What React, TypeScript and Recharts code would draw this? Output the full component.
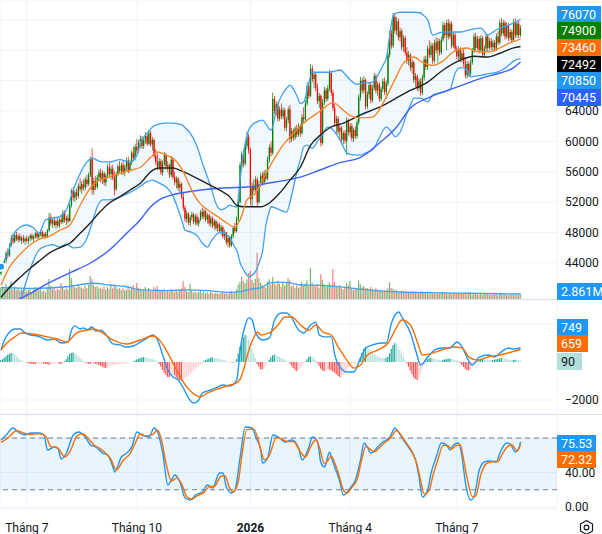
import React from "react";
import {
  ComposedChart,
  Bar,
  Line,
  Area,
  XAxis,
  YAxis,
  CartesianGrid,
  ReferenceLine,
  ReferenceArea,
  Cell,
} from "recharts";

// daily bars, prices in thousand VND: [open, high, low, close]
const ohlc: number[][] = [
  [42.6, 43.4, 42.4, 43.2], [43.2, 44.0, 42.9, 43.8], [43.8, 44.6, 43.5, 44.3], [44.3, 45.6, 44.0, 45.3],
  [45.3, 45.9, 44.6, 45.0], [45.0, 46.6, 44.8, 46.4], [46.4, 47.7, 46.1, 47.3], [47.3, 47.9, 46.5, 46.8],
  [46.8, 48.0, 46.6, 47.7], [47.7, 48.1, 46.9, 47.1], [47.1, 47.8, 46.7, 47.5], [47.5, 47.9, 46.8, 47.0],
  [47.0, 47.6, 46.5, 47.3], [47.3, 47.7, 46.6, 46.9], [46.9, 47.4, 46.4, 47.2], [47.2, 47.6, 46.7, 46.9],
  [46.9, 47.5, 46.5, 47.3], [47.3, 47.8, 46.9, 47.6], [47.6, 47.9, 47.0, 47.2], [47.2, 47.7, 46.8, 47.5],
  [47.5, 48.1, 47.2, 47.9], [47.9, 48.2, 47.2, 47.4], [47.4, 48.0, 47.1, 47.8], [47.8, 48.4, 47.5, 48.1],
  [48.1, 48.3, 47.3, 47.5], [47.5, 48.0, 47.2, 47.8], [47.8, 48.1, 47.2, 47.4], [47.4, 48.5, 47.3, 48.3],
  [48.3, 50.6, 48.1, 50.0], [50.0, 50.5, 48.9, 49.2], [49.2, 49.9, 48.6, 49.6], [49.6, 50.1, 48.8, 49.0],
  [49.0, 49.7, 48.5, 49.5], [49.5, 50.0, 48.7, 48.9], [48.9, 49.9, 48.6, 49.7], [49.7, 50.3, 49.1, 49.4],
  [49.4, 51.0, 49.2, 50.6], [50.6, 50.9, 49.3, 49.6], [49.6, 50.2, 49.0, 49.9], [49.9, 50.4, 49.2, 49.5],
  [49.5, 51.9, 49.4, 51.6], [51.6, 53.8, 51.3, 53.5], [53.5, 54.0, 52.2, 52.6], [52.6, 53.6, 52.0, 53.3],
  [53.3, 53.8, 52.3, 52.8], [52.8, 54.5, 52.5, 54.1], [54.1, 55.2, 53.4, 53.7], [53.7, 54.8, 53.1, 54.4],
  [54.4, 55.0, 53.5, 53.9], [53.9, 55.3, 53.6, 55.0], [55.0, 55.6, 54.0, 54.4], [54.4, 55.9, 54.1, 55.6],
  [55.6, 58.0, 55.3, 57.6], [57.8, 59.1, 53.0, 53.6], [53.6, 55.2, 53.0, 54.8], [54.8, 55.4, 53.6, 54.0],
  [54.0, 55.6, 53.7, 55.3], [55.3, 56.3, 54.8, 55.9], [55.9, 56.4, 54.6, 55.0], [55.0, 56.2, 54.4, 55.8],
  [55.8, 56.0, 54.2, 54.6], [54.6, 55.8, 54.1, 55.5], [55.5, 57.0, 55.2, 56.6], [56.6, 57.2, 55.3, 55.7],
  [55.7, 56.8, 55.0, 56.4], [56.4, 56.9, 54.9, 55.2], [55.2, 56.1, 52.9, 53.7], [53.7, 56.0, 53.5, 55.7],
  [55.7, 57.0, 55.4, 56.7], [56.7, 57.4, 55.8, 56.1], [56.1, 57.2, 55.6, 56.9], [56.9, 57.5, 55.6, 55.9],
  [55.9, 57.0, 55.4, 56.6], [56.6, 57.9, 56.2, 57.5], [57.5, 58.0, 55.8, 56.2], [56.2, 57.6, 55.9, 57.2],
  [57.2, 58.8, 56.9, 58.5], [58.5, 59.3, 57.4, 57.8], [57.8, 59.7, 57.5, 59.3], [59.3, 60.3, 58.4, 58.8],
  [58.8, 60.2, 58.5, 59.9], [59.9, 60.8, 59.1, 60.3], [60.3, 60.7, 59.0, 59.4], [59.4, 60.6, 59.0, 60.2],
  [60.2, 61.2, 59.7, 60.7], [60.7, 61.0, 59.4, 59.7], [59.7, 61.5, 59.5, 61.1], [61.1, 61.4, 59.3, 59.6],
  [59.6, 60.6, 58.8, 60.2], [60.2, 60.4, 57.8, 58.1], [58.1, 59.0, 56.9, 57.3], [57.3, 58.4, 56.2, 56.6],
  [56.6, 57.8, 56.2, 57.4], [57.4, 57.7, 55.6, 55.9], [55.9, 57.5, 55.5, 57.1], [57.1, 58.6, 56.8, 58.2],
  [58.2, 58.5, 56.3, 56.7], [56.7, 57.4, 55.9, 56.9], [56.9, 57.1, 55.2, 55.6], [55.6, 58.1, 55.3, 57.6],
  [57.6, 57.9, 55.0, 55.3], [55.3, 56.0, 54.2, 54.6], [54.6, 55.4, 53.8, 55.1], [55.1, 55.3, 53.5, 53.9],
  [53.9, 54.8, 53.3, 54.4], [54.4, 54.6, 52.4, 52.7], [52.7, 53.3, 50.9, 51.3], [51.3, 51.6, 49.4, 49.8],
  [49.8, 50.9, 49.3, 50.5], [50.5, 50.7, 49.0, 49.3], [49.3, 50.3, 48.8, 50.0], [50.0, 50.8, 49.6, 50.4],
  [50.4, 50.6, 49.1, 49.4], [49.4, 50.4, 49.0, 50.1], [50.1, 50.5, 48.9, 49.2], [49.2, 50.0, 48.8, 49.7],
  [49.7, 51.0, 49.5, 50.7], [50.7, 51.3, 49.8, 50.1], [50.1, 51.1, 49.7, 50.8], [50.8, 51.0, 49.4, 49.7],
  [49.7, 50.6, 49.2, 50.3], [50.3, 50.5, 48.9, 49.2], [49.2, 50.2, 48.7, 49.9], [49.9, 50.1, 48.6, 48.9],
  [48.9, 49.8, 48.4, 49.5], [49.5, 49.7, 48.3, 48.6], [48.6, 49.4, 48.1, 49.1], [49.1, 49.3, 47.9, 48.2],
  [48.2, 49.0, 47.6, 48.7], [48.7, 48.9, 47.2, 47.5], [47.5, 48.4, 47.0, 48.0], [48.0, 48.1, 46.4, 46.7],
  [46.7, 47.6, 46.1, 47.3], [47.3, 47.5, 46.0, 46.3], [46.3, 47.8, 46.1, 47.5], [47.5, 48.9, 47.2, 48.6],
  [48.6, 49.3, 47.9, 48.2], [48.2, 50.1, 48.0, 49.8], [49.8, 52.4, 49.5, 52.0], [52.0, 57.3, 51.8, 56.9],
  [56.9, 58.7, 56.3, 58.3], [58.3, 59.0, 56.6, 57.1], [57.1, 59.8, 56.8, 59.4], [59.4, 61.3, 59.0, 60.6],
  [60.6, 61.0, 58.4, 58.8], [58.8, 59.2, 51.6, 52.4], [52.4, 54.6, 51.3, 54.1], [54.1, 55.0, 53.2, 53.6],
  [53.6, 55.4, 53.3, 55.0], [55.0, 55.3, 51.5, 52.0], [52.0, 54.8, 51.8, 54.4], [54.4, 55.9, 54.0, 55.5],
  [55.5, 56.0, 54.2, 54.6], [54.6, 56.2, 54.3, 55.8], [55.8, 56.3, 54.7, 55.1], [55.1, 58.0, 54.9, 57.6],
  [57.6, 59.6, 57.2, 59.2], [59.2, 60.0, 58.0, 58.5], [58.5, 66.4, 58.2, 65.6], [65.6, 66.0, 63.6, 64.0],
  [64.0, 65.3, 63.4, 64.9], [64.9, 65.2, 62.6, 63.0], [63.0, 64.6, 62.7, 64.2], [64.2, 65.0, 62.9, 63.3],
  [63.3, 64.5, 62.9, 64.1], [64.1, 64.4, 61.4, 61.8], [61.8, 63.2, 61.3, 62.8], [62.8, 64.6, 62.4, 64.2],
  [64.2, 64.8, 59.8, 60.3], [60.3, 61.8, 59.9, 61.4], [61.4, 61.7, 60.1, 60.5], [60.5, 62.0, 60.2, 61.7],
  [61.7, 62.2, 60.5, 60.9], [60.9, 62.4, 60.6, 62.0], [62.0, 62.3, 60.6, 61.1], [61.1, 63.6, 60.9, 63.2],
  [63.2, 64.5, 62.5, 62.9], [62.9, 65.4, 62.7, 65.0], [65.0, 67.8, 64.7, 67.3], [67.3, 67.7, 65.6, 66.0],
  [66.0, 70.2, 65.8, 69.6], [69.6, 70.0, 67.8, 68.2], [68.2, 69.2, 67.0, 68.8], [68.8, 69.1, 66.6, 67.0],
  [67.0, 67.6, 64.9, 65.3], [65.3, 66.4, 64.4, 66.0], [66.0, 66.2, 59.3, 59.8], [59.8, 65.6, 59.5, 65.2],
  [65.2, 67.2, 64.8, 66.7], [66.7, 67.0, 65.2, 65.6], [65.6, 67.4, 65.3, 67.0], [67.0, 69.4, 66.6, 69.0],
  [69.0, 69.3, 66.0, 66.4], [66.4, 66.8, 64.0, 64.4], [64.4, 64.9, 62.0, 62.4], [62.4, 63.4, 61.0, 63.0],
  [63.0, 63.3, 60.9, 61.3], [61.3, 62.2, 60.2, 61.8], [61.8, 62.0, 59.8, 60.2], [60.2, 61.4, 59.6, 61.1],
  [61.1, 61.5, 59.7, 60.1], [60.1, 63.2, 58.2, 62.8], [62.8, 63.0, 60.8, 61.2], [61.2, 62.4, 60.6, 62.0],
  [62.0, 62.4, 60.0, 60.4], [60.4, 61.8, 59.9, 61.5], [61.5, 62.0, 60.3, 60.7], [60.7, 62.9, 60.4, 62.5],
  [62.5, 66.2, 62.2, 65.8], [65.8, 68.5, 65.4, 68.0], [68.0, 68.4, 66.3, 66.7], [66.7, 68.6, 66.3, 68.1],
  [68.1, 68.3, 64.2, 64.6], [64.6, 66.6, 64.3, 66.2], [66.2, 67.8, 65.6, 67.4], [67.4, 67.7, 65.0, 65.4],
  [65.4, 67.5, 65.1, 67.0], [67.0, 69.0, 66.7, 68.6], [68.6, 68.9, 66.3, 66.7], [66.7, 67.9, 66.0, 67.5],
  [67.5, 67.8, 65.2, 65.6], [65.6, 67.2, 65.3, 66.9], [66.9, 68.3, 66.5, 67.9], [67.9, 68.4, 66.1, 66.5],
  [66.5, 68.0, 65.6, 67.6], [67.6, 71.8, 67.3, 71.4], [71.4, 74.6, 71.0, 74.2], [74.2, 74.7, 72.2, 72.6],
  [72.6, 76.9, 72.3, 76.4], [76.4, 76.8, 74.2, 74.6], [74.6, 76.4, 74.0, 75.8], [75.8, 76.2, 73.3, 73.7],
  [73.7, 75.0, 73.1, 74.5], [74.5, 74.8, 72.0, 72.4], [72.4, 74.0, 71.8, 73.6], [73.6, 73.9, 71.3, 71.7],
  [71.7, 72.4, 70.2, 70.6], [70.6, 71.9, 70.0, 71.4], [71.4, 71.6, 69.3, 69.7], [69.7, 70.9, 68.9, 70.4],
  [70.4, 70.6, 67.7, 68.1], [68.1, 69.0, 67.2, 68.6], [68.6, 68.8, 66.6, 67.0], [67.0, 68.3, 66.6, 67.9],
  [67.9, 68.3, 66.0, 66.4], [66.4, 68.8, 66.1, 68.4], [68.4, 71.2, 68.0, 70.8], [70.8, 71.3, 69.4, 69.8],
  [69.8, 72.6, 69.4, 72.2], [72.2, 73.3, 71.0, 71.4], [71.4, 73.0, 71.0, 72.6], [72.6, 72.9, 70.2, 70.6],
  [70.6, 73.4, 70.3, 73.0], [73.0, 73.7, 71.6, 72.0], [72.0, 73.6, 70.4, 73.2], [73.2, 73.5, 71.3, 71.7],
  [71.7, 73.8, 71.4, 73.4], [73.4, 75.8, 73.1, 75.3], [75.3, 75.6, 73.6, 74.0], [74.0, 76.0, 72.0, 75.6],
  [75.6, 76.1, 73.4, 73.8], [73.8, 75.9, 73.5, 75.5], [75.5, 75.8, 72.2, 72.6], [72.6, 74.4, 72.3, 74.0],
  [74.0, 74.3, 71.8, 72.2], [72.2, 72.6, 70.8, 71.2], [71.2, 72.5, 70.6, 72.1], [72.1, 72.4, 70.4, 70.8],
  [70.8, 72.0, 70.4, 71.6], [71.6, 72.2, 69.8, 70.2], [70.2, 71.0, 68.3, 68.7], [68.7, 70.6, 68.3, 70.2],
  [70.2, 70.5, 68.5, 68.9], [68.9, 70.8, 68.6, 70.4], [70.4, 72.3, 70.1, 71.9], [71.9, 74.2, 71.6, 73.8],
  [73.8, 74.3, 71.9, 72.3], [72.3, 73.9, 72.0, 73.5], [73.5, 73.8, 71.6, 72.0], [72.0, 74.0, 71.7, 73.6],
  [73.6, 73.9, 71.0, 71.4], [71.4, 72.6, 71.0, 72.2], [72.2, 74.2, 71.9, 73.8], [73.8, 74.1, 71.9, 72.3],
  [72.3, 73.6, 72.0, 73.2], [73.2, 73.6, 72.0, 72.4], [72.4, 73.4, 72.0, 73.0], [73.0, 73.3, 71.8, 72.2],
  [72.2, 74.2, 71.9, 73.8], [73.8, 74.5, 72.6, 73.0], [73.0, 76.0, 72.8, 75.6], [75.6, 76.2, 73.8, 74.2],
  [74.2, 76.0, 73.9, 75.6], [75.6, 75.9, 73.4, 73.8], [73.8, 75.7, 73.5, 75.3], [75.3, 75.6, 73.2, 73.6],
  [73.6, 74.8, 73.3, 74.4], [74.4, 74.7, 72.9, 73.3], [73.3, 76.1, 73.1, 75.7], [75.7, 76.2, 73.6, 74.0],
  [74.0, 75.8, 73.7, 75.5], [75.5, 75.9, 73.6, 74.0], [74.0, 75.3, 73.7, 74.9],
];

// daily volume, millions of shares
const volumes = [
  6.5, 7.2, 5.8, 8.4, 6.0, 7.6, 9.8, 5.4, 7.0, 5.2, 6.3, 4.8, 5.6, 4.6, 5.9,
  4.2, 5.1, 6.4, 3.9, 5.5, 6.8, 4.4, 5.0, 6.1, 4.3, 4.8, 3.8, 6.9, 11.5,
  7.4, 5.6, 6.2, 4.9, 5.8, 5.1, 9.2, 6.6, 5.2, 6.0,
  5.4, 17.2, 11.8, 7.9, 6.8,
  6.2, 8.4, 7.1, 6.5, 5.8, 7.7, 6.3, 8.0, 13.2, 11.4, 8.1, 6.9, 7.4, 6.0,
  6.6, 5.8, 7.2, 5.4, 6.8, 5.9, 7.6, 6.1, 8.3, 7.0, 5.7, 6.4, 5.2, 6.0, 4.9, 5.5, 6.7, 5.3, 6.2, 7.8, 5.6,
  9.2, 6.4, 5.8, 4.7, 5.5, 6.9, 4.5, 6.3, 5.0, 4.4, 6.8, 5.9, 7.5, 4.6,
  5.3, 4.8, 5.6, 4.2, 5.0, 3.9, 5.7, 4.4, 3.8, 4.6, 4.1, 5.2, 6.0, 10.3, 6.8,
  4.5, 3.8, 8.6, 4.9, 3.6, 4.2, 3.3, 4.0, 5.1, 3.5, 4.4, 3.2, 3.9, 3.0, 4.3,
  3.4, 2.9, 3.7, 3.1, 2.8, 3.6, 4.1, 3.2, 3.8, 2.9, 3.4, 4.6, 3.3, 3.9,
  5.4, 8.2, 9.7, 12.6, 10.3, 9.0, 11.1, 14.9, 16.0, 10.8, 9.2, 11.5, 26.4, 12.0, 9.3, 8.1,
  7.4, 6.6, 9.9, 11.3, 8.2, 12.6, 9.0, 7.8, 10.4, 8.7, 6.9, 9.5, 7.6, 8.8, 11.9, 10.6, 7.2, 8.0, 6.5, 7.7, 6.3,
  6.9, 9.6, 7.4, 8.8, 10.7, 7.3, 17.8, 9.5, 8.2, 7.1, 8.6, 6.4, 14.2, 11.0, 8.3, 6.8, 7.9, 9.4, 8.1, 17.2, 9.8, 7.5, 6.6, 8.0,
  6.2, 5.4, 6.9, 9.1, 7.8, 10.3, 6.0, 5.2, 6.5, 5.8, 10.5, 8.4, 6.7, 7.5, 5.9, 6.3, 5.1, 6.8, 5.6, 4.9,
  6.0, 5.3, 4.7, 5.5, 4.4, 5.0, 4.6, 6.2, 9.6,
  6.1, 5.8, 4.9, 5.3, 4.4, 4.0, 4.7, 3.8, 4.3, 3.6, 4.1, 3.4, 3.9, 4.5, 3.7, 3.2, 4.0, 3.5, 4.4, 3.8,
  3.3, 3.7, 3.0, 3.6, 3.2, 3.9, 2.9, 3.4, 3.1, 3.7, 4.2, 3.3, 3.6, 3.0, 3.5, 2.8, 3.2, 3.6, 2.9, 3.3,
  3.0, 3.4, 2.7, 3.1, 2.6, 3.5, 2.9, 2.5, 3.2, 2.8, 3.4, 2.6, 3.0, 2.4, 2.9, 2.7, 3.2, 2.5, 2.8, 2.3,
  3.0, 2.6, 2.2, 3.1, 2.7, 2.4, 2.9, 2.5, 2.1, 2.7, 2.4, 2.8, 2.2, 2.6, 2.3, 2.9,
];

// MACD histogram, one value per bar
const macdHist = [
  100, 150, 220, 300, 380, 430, 470, 460, 420, 330, 240, 150, 80, 40, 10,
  -30, -60, -80, -100, -110, -120, -110, -100, -90, -80, -90, -100, -120, -140, -130, -110, -90, -70, -60, -80, -100, -90,
  50, 150, 300, 420, 480, 500, 450, 380, 300, 220, 140, 60,
  -20, -60, -90, -110, -100, -80, -90, -120, -150, -200, -250, -300, -320, -280, -240,
  -200, -170, -150, -130, -120, -110, -100, -90, -80, -60, -40, -20, -10,
  20, 80, 130, 170, 210, 240, 260, 250, 230, 200, 180, 160, 120, 80, 40,
  -100, -250, -420, -580, -700, -790, -800, -720, -640, -700, -820, -900, -950, -980, -920, -860, -800, -720, -640, -560, -470, -380, -300, -220, -140, -60,
  40, 100, 150, 190, 220, 240, 230, 210, 190, 170, 150, 120, 90, 60, 30, 10,
  -20, -40, -20,
  150, 450, 800, 1100, 1300, 1420, 1380, 1200, 950, 700, 450, 200,
  -100, -250, -380, -400, -330,
  -200, -50, 100, 250, 350, 380, 360,
  320, 270, 220, 170, 120, 70, 20,
  -80, -200, -320, -420, -480, -430, -340, -230, -120,
  20, 150, 260, 300, 270, 200, 100,
  -50, -200, -350, -450, -480, -420, -380, -400, -450, -500, -560,
  -650, -740, -800, -780, -700, -580, -450, -320, -200,
  -120, -80, -50, -30, 60, 250,
  500, 700, 800, 780, 700, 600, 500, 420, 350, 300, 260, 230, 210, 200, 220, 280,
  450, 700, 900, 1000, 950, 800, 620, 450,
  280, 120, -60, -250,
  -450, -650, -800, -900, -950, -850, -650, -400,
  -150, 50, 150, 200, 220, 200, 170, 150, 130, 120, 110, 120, 130, 150, 170, 180, 170, 150, 120, 90, 50,
  -50, -150, -260, -350, -420, -450, -380, -280, -170, -60,
  40, 100, 140, 160, 150, 130, 120, 110, 100, 110, 130, 150, 170, 190, 210, 200, 180, 150, 130, 110, 100, 110, 120, 110, 100, 90,
];

// indicator lines: [bar index, value]
const bollinger: number[][] = [
  // [bar, upper, lower] in thousands
  [0, 43.5, 36.5], [4, 45.3, 37.2], [7, 47.6, 37.8], [11, 48.7, 39.0], [15, 49.0, 41.8], [19, 48.6, 44.4],
  [22, 47.9, 45.7], [26, 49.7, 46.2], [30, 49.9, 46.4], [34, 50.1, 46.1], [38, 51.0, 46.5], [42, 53.6, 46.0],
  [46, 55.8, 46.1], [50, 57.3, 47.3], [53, 57.8, 49.3], [56, 57.5, 51.4], [59, 57.3, 52.3], [63, 57.3, 52.3],
  [69, 57.6, 52.7], [75, 57.3, 53.3], [79, 58.2, 53.8], [81, 59.8, 54.1], [85, 61.1, 54.7], [88, 61.9, 54.9],
  [92, 62.3, 54.5], [96, 62.4, 54.0], [100, 62.4, 52.8], [103, 62.3, 51.0], [105, 62.2, 49.7], [107, 61.8, 48.3],
  [110, 61.1, 48.1], [114, 59.3, 47.6], [117, 57.2, 46.6], [120, 55.3, 46.1], [122, 54.0, 46.8], [125, 51.8, 47.7],
  [128, 51.0, 48.1], [131, 51.3, 47.7], [133, 51.6, 47.4], [136, 51.4, 46.0], [137, 51.4, 45.7], [139, 55.0, 44.0],
  [141, 58.5, 43.1], [143, 60.8, 42.4], [144, 61.5, 42.2], [146, 62.2, 42.4], [148, 62.5, 42.9], [150, 62.7, 44.0],
  [152, 62.8, 45.5], [154, 62.3, 49.0], [156, 61.6, 50.8], [157, 61.5, 51.4], [160, 64.0, 51.2], [162, 65.5, 51.0],
  [164, 66.4, 50.8], [166, 67.0, 50.7], [168, 67.4, 52.0], [170, 66.9, 54.0], [172, 66.0, 56.0], [174, 65.0, 57.6],
  [176, 65.2, 59.3], [178, 66.8, 59.5], [181, 69.1, 59.1], [184, 69.1, 60.0], [186, 69.1, 60.6], [190, 69.1, 61.9],
  [193, 69.2, 61.5], [197, 69.4, 60.2], [201, 68.6, 58.5], [203, 68.1, 58.3], [207, 67.5, 58.2], [209, 67.6, 58.2],
  [212, 67.7, 58.5], [216, 67.8, 58.9], [220, 69.1, 60.5], [222, 70.0, 61.4], [224, 71.0, 61.9], [226, 74.0, 61.5],
  [228, 76.6, 60.9], [229, 76.8, 60.6], [232, 77.0, 61.2], [236, 77.0, 63.7], [238, 77.0, 64.8], [240, 77.0, 65.7],
  [244, 76.9, 65.7], [245, 76.7, 65.6], [248, 76.0, 65.2], [251, 74.0, 66.1], [255, 74.3, 66.4], [257, 74.4, 66.5],
  [261, 74.4, 66.8], [264, 74.4, 69.0], [267, 74.4, 69.7], [271, 74.6, 69.4], [273, 74.7, 68.5], [279, 74.9, 68.7],
  [283, 74.0, 68.9], [288, 74.7, 69.1], [292, 75.1, 69.5], [294, 75.2, 69.8], [296, 75.4, 70.2], [299, 75.7, 70.7],
  [302, 76.07, 70.85],
];

const bbBasis: number[][] = [
  [0, 41.1], [5, 43.5], [11, 45.1], [17, 46.4], [23, 47.2], [28, 47.5], [34, 48.3], [40, 49.0], [46, 51.6],
  [52, 53.9], [57, 54.9], [63, 55.3], [69, 55.8], [75, 56.2], [81, 56.6], [87, 57.9], [91, 58.6], [96, 58.2],
  [101, 57.6], [106, 56.0], [110, 54.0], [114, 52.3], [120, 51.0], [126, 50.1], [131, 49.3], [136, 48.7],
  [139, 49.7], [143, 52.3], [148, 53.2], [152, 54.9], [156, 56.6], [162, 58.9], [170, 61.1], [178, 62.8],
  [185, 63.9], [193, 65.1], [199, 64.1], [203, 63.4], [209, 63.1], [216, 63.2], [222, 65.0], [228, 67.7],
  [234, 70.3], [240, 71.1], [245, 70.4], [251, 70.0], [257, 70.6], [263, 71.8], [271, 72.3], [277, 71.8],
  [284, 71.8], [290, 72.3], [296, 73.0], [302, 73.46],
];

const ma50: number[][] = [
  [0, 39.5], [5, 40.8], [11, 42.1], [17, 43.3], [23, 44.4], [28, 45.3], [34, 46.0], [40, 46.6], [46, 47.9],
  [52, 49.3], [57, 50.6], [63, 51.9], [69, 52.7], [75, 53.6], [81, 54.5], [88, 56.2], [92, 56.5], [100, 56.5],
  [104, 56.2], [110, 55.6], [116, 54.9], [121, 54.3], [127, 53.6], [133, 52.7], [137, 51.6], [141, 51.4],
  [147, 51.4], [151, 51.4], [156, 51.9], [162, 53.2], [168, 54.9], [174, 56.6], [180, 59.5], [186, 60.9],
  [191, 61.8], [199, 62.4], [209, 63.5], [220, 64.5], [236, 66.5], [248, 67.8], [257, 69.4], [267, 70.7],
  [275, 71.2], [283, 71.1], [290, 71.6], [298, 72.3], [302, 72.49],
];

const ma200: number[][] = [
  [0, 37.8], [11, 39.3], [17, 40.0], [28, 41.4], [40, 42.7], [52, 44.0], [63, 45.7], [73, 47.9], [81, 49.7],
  [87, 51.4], [92, 52.3], [100, 53.0], [110, 53.4], [120, 53.7], [131, 53.9], [143, 54.0], [155, 54.5],
  [166, 54.9], [174, 55.3], [185, 56.2], [197, 57.2], [209, 57.9], [220, 59.8], [230, 61.9], [238, 64.4],
  [248, 65.7], [257, 66.5], [267, 67.3], [279, 68.3], [290, 69.0], [298, 69.7], [302, 70.445],
];

const volumeMa: number[][] = [
  [0, 6.5], [19, 6.1], [38, 7.0], [54, 9.0], [63, 8.0], [73, 7.0], [81, 5.2], [97, 4.8], [108, 5.2],
  [120, 4.8], [133, 3.8], [139, 4.2], [145, 5.7], [151, 6.3], [156, 9.2], [162, 9.7], [168, 9.2], [174, 8.0],
  [186, 7.8], [197, 6.9], [209, 5.7], [220, 4.6], [232, 4.0], [251, 3.6], [271, 3.3], [290, 3.0], [302, 2.861],
];

const macdLine: number[][] = [
  [0, 630], [2, 1160], [5, 1580], [8, 1740], [11, 1740], [14, 1530], [17, 1420], [21, 1370], [24, 1260],
  [27, 1160], [31, 1210], [35, 1000], [39, 1050], [41, 1680], [43, 1900], [46, 1740], [48, 1790], [50, 1700],
  [53, 1840], [55, 1630], [58, 1680], [62, 1320], [65, 950], [69, 900], [73, 790], [77, 840], [81, 1050],
  [85, 1260], [88, 1420], [91, 1160], [94, 370], [97, -420], [100, -790], [103, -950], [106, -1370],
  [109, -1900], [112, -2160], [115, -2000], [117, -1630], [122, -1470], [126, -1320], [129, -1210],
  [133, -1260], [137, -950], [139, 630], [142, 1950], [144, 2320], [146, 2210], [148, 1530], [152, 1160],
  [156, 1260], [159, 2210], [163, 2580], [166, 2580], [169, 2320], [173, 1680], [176, 1530], [180, 1950],
  [183, 2100], [185, 1420], [188, 1320], [192, 1320], [194, 370], [197, -260], [201, -530], [205, -530],
  [209, 210], [212, 740], [216, 900], [221, 1000], [224, 1000], [227, 2050], [231, 2630], [234, 2210],
  [238, 1530], [241, 630], [244, -160], [248, 260], [252, 630], [256, 740], [261, 740], [265, 1050],
  [268, 790], [271, 210], [274, -160], [278, 260], [283, 370], [287, 260], [290, 470], [295, 740],
  [298, 680], [302, 749],
];

const macdSignal: number[][] = [
  [0, 630], [4, 1050], [8, 1320], [12, 1530], [19, 1470], [27, 1320], [33, 1210], [38, 1050], [44, 1530],
  [50, 1680], [54, 1740], [59, 1530], [65, 1160], [73, 950], [81, 1160], [88, 1370], [91, 1260], [97, 470],
  [102, -420], [108, -1320], [113, -1740], [116, -1840], [120, -1630], [126, -1420], [133, -1210],
  [137, -1100], [139, -900], [141, -400], [144, 600], [147, 1300], [149, 1580], [151, 1420], [156, 1530],
  [161, 1950], [165, 2370], [169, 2370], [174, 1950], [179, 1680], [183, 1950], [187, 1580], [192, 1420],
  [196, 790], [201, 100], [205, -320], [209, -160], [213, 370], [219, 630], [225, 1000], [230, 1840],
  [233, 2210], [238, 1950], [242, 1050], [245, 370], [251, 470], [256, 630], [263, 790], [268, 740],
  [272, 260], [277, 100], [283, 260], [290, 370], [297, 530], [302, 659],
];

const stochK: number[][] = [
  [0, 77.7], [3, 83.5], [7, 91.6], [10, 87], [14, 83.5], [17, 85.8], [22, 85.8], [25, 83.5], [27, 66],
  [31, 69.6], [33, 68.4], [35, 55.6], [38, 62.6], [42, 83.5], [45, 87], [49, 81.2], [52, 71.9], [55, 69.6],
  [59, 62.6], [62, 60.3], [65, 46.4], [66, 40.6], [70, 58], [73, 62.6], [76, 69.6], [79, 87], [82, 83.5],
  [86, 81.2], [89, 91.6], [91, 87], [94, 62.6], [97, 25.5], [99, 31.3], [101, 37.1], [104, 29], [107, 10.4],
  [110, 8.1], [113, 13.9], [117, 17.4], [120, 25.5], [123, 22], [127, 39.4], [129, 39.4], [131, 23.2],
  [134, 16.2], [136, 19.7], [139, 58], [142, 92.8], [146, 91.6], [148, 81.2], [151, 66], [152, 51],
  [155, 56.8], [158, 83.5], [162, 80], [165, 75.4], [169, 77.7], [173, 68.4], [175, 54.5], [179, 69.6],
  [181, 81.2], [184, 75.4], [186, 51], [188, 46.4], [191, 63.8], [192, 58], [194, 46.4], [197, 29],
  [199, 13.9], [203, 22], [206, 31.3], [209, 54.5], [211, 74.2], [213, 69.6], [215, 62.6], [219, 69.6],
  [222, 75.4], [224, 77.7], [226, 81.2], [229, 91.6], [231, 87], [234, 77.7], [238, 66], [241, 54.5],
  [243, 34.8], [245, 11.6], [248, 19.7], [250, 39.4], [253, 58], [256, 74.2], [259, 72], [261, 66],
  [263, 71.9], [266, 74.2], [268, 58], [270, 27.8], [273, 8.1], [275, 11.6], [278, 42.9], [281, 52.2],
  [284, 53.3], [288, 52.2], [290, 62.6], [294, 74.2], [296, 73], [299, 63.8], [301, 68.4], [302, 75.53],
];

const stochD: number[][] = [
  [0, 75], [4, 80], [9, 88.5], [13, 86], [17, 84], [22, 85], [26, 82], [29, 70], [33, 68.5], [37, 58],
  [40, 64], [44, 82], [47, 85], [51, 79], [54, 72], [57, 68.5], [61, 62], [64, 55], [67, 43], [71, 54],
  [75, 62], [78, 74], [81, 85], [84, 82.5], [88, 84], [91, 89], [93, 80], [96, 50], [99, 30], [102, 33.5],
  [105, 27], [108, 12], [111, 9], [114, 13], [118, 17], [121, 23.5], [124, 24], [128, 36], [130, 36.5],
  [133, 22], [135, 17.5], [138, 30], [140, 60], [143, 90], [147, 90], [150, 74], [153, 55], [156, 60],
  [160, 80.5], [163, 79], [166, 76], [170, 76], [174, 64], [177, 58], [180, 70], [183, 78], [185, 70],
  [188, 50], [190, 54], [192, 59], [194, 51], [196, 40], [199, 20], [201, 16], [204, 23], [207, 32],
  [210, 58], [212, 70], [214, 68], [217, 64], [220, 69], [223, 74.5], [225, 77.5], [227, 82], [230, 89],
  [232, 85], [235, 76], [239, 64], [242, 48], [244, 30], [246, 15], [249, 20], [251, 36], [254, 55],
  [257, 71.5], [260, 70.5], [262, 67.5], [264, 70.5], [267, 72], [269, 54], [271, 33], [274, 12], [276, 13],
  [279, 38], [282, 50], [285, 52.5], [289, 53], [291, 60], [295, 71], [297, 72], [300, 65], [302, 72.32],
];

const monthTicks = [15, 79, 145, 203, 265];
const monthLabels = ["Tháng 7", "Tháng 10", "2026", "Tháng 4", "Tháng 7"];
const priceTicks = [44000, 48000, 52000, 56000, 60000, 64000, 68000, 72000, 76000];
const stochTicks = [0, 40, 80];

const X_DOMAIN: [number, number] = [-0.6, 323.2];
const PRICE_DOMAIN: [number, number] = [39260, 78610];
const VOL_DOMAIN: [number, number] = [0, 171];
const MACD_DOMAIN: [number, number] = [-2737, 3263];
const STOCH_DOMAIN: [number, number] = [-2.3, 106.7];

const TEXT = "#131722";
const GRID = "#f0f3fa";
const UP = "#008000";
const DOWN = "#ff0000";
const BB_LINE = "#42a0f0";
const ORANGE = "#ff6d00";
const BLUE = "#2196f3";
const FONT = "Roboto, 'Noto Sans', sans-serif";

const rows = ohlc.map(([o, h, l, c], i) => ({
  x: i,
  o: o * 1000,
  h: h * 1000,
  l: l * 1000,
  c: c * 1000,
  range: [l * 1000, h * 1000],
  vol: volumes[i],
  hist: macdHist[i],
}));

const pts = (list: number[][], k = 1) => list.map(([x, v]) => ({ x, v: v * k }));
const bbRows = bollinger.map(([x, u, lo]) => ({ x, hi: u * 1000, lo: lo * 1000 }));

const histColor = (i: number) => {
  const v = macdHist[i];
  const prev = i > 0 ? macdHist[i - 1] : 0;
  if (v >= 0) return v >= prev ? "#26a69a" : "#b2dfdb";
  return v < prev ? "#ff5252" : "#ffcdd2";
};

const Candle = (props: any) => {
  const { x, width, payload } = props;
  let { y, height } = props;
  if (height < 0) {
    y += height;
    height = -height;
  }
  const { o, h, l, c } = payload;
  const cx = x + width / 2;
  const span = h - l || 1;
  const py = (v: number) => y + ((h - v) / span) * height;
  const color = c >= o ? UP : DOWN;
  const top = py(Math.max(o, c));
  const bot = py(Math.min(o, c));
  return (
    <g>
      <rect x={cx - 0.35} y={y} width={0.7} height={Math.max(height, 1)} fill={color} />
      <rect x={cx - 0.65} y={top} width={1.3} height={Math.max(bot - top, 1)} fill={color} />
    </g>
  );
};

const MonthTick = (props: any) => {
  const { x, y, payload } = props;
  const label = monthLabels[monthTicks.indexOf(payload.value)] ?? "";
  return (
    <text
      x={x}
      y={y}
      dy="0.71em"
      textAnchor="middle"
      fontSize={12}
      fill={TEXT}
      fontWeight={label === "2026" ? 700 : 400}
      fontFamily={FONT}
    >
      {label}
    </text>
  );
};

// value tags on the right scale (layout only)
const tags = [
  { text: "76070", bg: BLUE, cy: 14, w: 44 },
  { text: "74900", bg: "#008000", cy: 30.7, w: 44 },
  { text: "73460", bg: ORANGE, cy: 47.4, w: 44 },
  { text: "72492", bg: "#000000", cy: 64, w: 44 },
  { text: "70850", bg: BLUE, cy: 80.8, w: 44 },
  { text: "70445", bg: "#2962ff", cy: 97.5, w: 44 },
  { text: "2.861M", bg: BLUE, cy: 291.5, w: 45 },
  { text: "749", bg: BLUE, cy: 327, w: 31 },
  { text: "659", bg: ORANGE, cy: 343.5, w: 31 },
  { text: "90", bg: "#b2dfdb", cy: 361, w: 25, color: "#131722" },
  { text: "75.53", bg: BLUE, cy: 443, w: 39 },
  { text: "72.32", bg: ORANGE, cy: 459.5, w: 39 },
];

const axisTick = { fontSize: 12, fill: TEXT, fontFamily: FONT };

export default function App() {
  return (
    <div
      style={{
        position: "relative",
        width: 602,
        height: 534,
        background: "#ffffff",
        fontFamily: FONT,
        overflow: "hidden",
      }}
    >
      <style>{"body{margin:0}"}</style>

      {/* price pane, back layer: grid and volume */}
      <div style={{ position: "absolute", left: 0, top: 0 }}>
        <ComposedChart width={602} height={299} data={rows} margin={{ top: 0, right: 45, bottom: 0, left: 0 }}>
          <CartesianGrid yAxisId="p" stroke={GRID} />
          <XAxis dataKey="x" type="number" domain={X_DOMAIN} ticks={monthTicks} hide allowDataOverflow />
          <YAxis yAxisId="p" domain={PRICE_DOMAIN} ticks={priceTicks} hide allowDataOverflow />
          <YAxis yAxisId="v" domain={VOL_DOMAIN} hide allowDataOverflow />
          <Bar yAxisId="v" dataKey="vol" barSize={1.2} isAnimationActive={false}>
            {rows.map((r) => (
              <Cell key={r.x} fill={r.c >= r.o ? "rgba(0,128,0,0.55)" : "rgba(255,0,0,0.5)"} />
            ))}
          </Bar>
          <Line
            yAxisId="v"
            data={pts(volumeMa)}
            dataKey="v"
            type="monotone"
            stroke={BB_LINE}
            strokeWidth={1.3}
            dot={false}
            activeDot={false}
            isAnimationActive={false}
          />
        </ComposedChart>
      </div>

      {/* price pane, front layer: bands, averages, candles */}
      <div style={{ position: "absolute", left: 0, top: 0 }}>
        <ComposedChart width={602} height={299} data={rows} margin={{ top: 0, right: 0, bottom: 0, left: 0 }}>
          <XAxis dataKey="x" type="number" domain={X_DOMAIN} ticks={monthTicks} hide allowDataOverflow />
          <YAxis
            orientation="right"
            width={45}
            domain={PRICE_DOMAIN}
            ticks={priceTicks}
            interval={0}
            tickFormatter={(v: number) => (v > 64000 ? "" : String(v))}
            tick={axisTick}
            axisLine={false}
            tickLine={false}
            allowDataOverflow
          />
          <Area
            data={bbRows}
            dataKey={(d: any) => [d.lo, d.hi]}
            type="monotone"
            stroke="none"
            fill={BLUE}
            fillOpacity={0.06}
            isAnimationActive={false}
          />
          <Line data={bbRows} dataKey="hi" type="monotone" stroke={BB_LINE} strokeWidth={1.3} dot={false} activeDot={false} isAnimationActive={false} />
          <Line data={bbRows} dataKey="lo" type="monotone" stroke={BB_LINE} strokeWidth={1.3} dot={false} activeDot={false} isAnimationActive={false} />
          <Line data={pts(ma200, 1000)} dataKey="v" type="monotone" stroke="#3c64f0" strokeWidth={1.4} dot={false} activeDot={false} isAnimationActive={false} />
          <Line data={pts(ma50, 1000)} dataKey="v" type="monotone" stroke="#222222" strokeWidth={1.4} dot={false} activeDot={false} isAnimationActive={false} />
          <Line data={pts(bbBasis, 1000)} dataKey="v" type="monotone" stroke="#f7862a" strokeWidth={1.4} dot={false} activeDot={false} isAnimationActive={false} />
          <Bar dataKey="range" barSize={2} shape={Candle} isAnimationActive={false} />
        </ComposedChart>
      </div>

      <div style={{ position: "absolute", left: 0, top: 299, width: 602, height: 1, background: "#e0e3eb" }} />

      {/* MACD pane */}
      <div style={{ position: "absolute", left: 0, top: 300 }}>
        <ComposedChart width={602} height={114} data={rows} margin={{ top: 0, right: 0, bottom: 0, left: 0 }}>
          <CartesianGrid stroke={GRID} />
          <XAxis dataKey="x" type="number" domain={X_DOMAIN} ticks={monthTicks} hide allowDataOverflow />
          <YAxis
            orientation="right"
            width={45}
            domain={MACD_DOMAIN}
            ticks={[-2000, 2000]}
            interval={0}
            tickFormatter={(v: number) => (v < 0 ? `\u2212${Math.abs(v)}` : "")}
            tick={axisTick}
            axisLine={false}
            tickLine={false}
            allowDataOverflow
          />
          <Bar dataKey="hist" barSize={1.2} isAnimationActive={false}>
            {rows.map((r) => (
              <Cell key={r.x} fill={histColor(r.x)} />
            ))}
          </Bar>
          <Line data={pts(macdLine)} dataKey="v" type="monotone" stroke={BLUE} strokeWidth={1.4} dot={false} activeDot={false} isAnimationActive={false} />
          <Line data={pts(macdSignal)} dataKey="v" type="monotone" stroke={ORANGE} strokeWidth={1.4} dot={false} activeDot={false} isAnimationActive={false} />
        </ComposedChart>
      </div>

      <div style={{ position: "absolute", left: 0, top: 414, width: 602, height: 1, background: "#e0e3eb" }} />

      {/* Stochastic pane + time axis */}
      <div style={{ position: "absolute", left: 0, top: 415 }}>
        <ComposedChart width={602} height={119} data={rows} margin={{ top: 0, right: 0, bottom: 0, left: 0 }}>
          <CartesianGrid stroke={GRID} />
          <XAxis
            dataKey="x"
            type="number"
            domain={X_DOMAIN}
            ticks={monthTicks}
            interval={0}
            tick={<MonthTick />}
            axisLine={false}
            tickLine={false}
            tickMargin={8}
            height={25}
            allowDataOverflow
          />
          <YAxis
            orientation="right"
            width={45}
            domain={STOCH_DOMAIN}
            ticks={stochTicks}
            interval={0}
            tickFormatter={(v: number) => (v === 40 ? v.toFixed(2) : "")}
            tick={axisTick}
            axisLine={false}
            tickLine={false}
            allowDataOverflow
          />
          <ReferenceArea y1={20} y2={80} fill={BLUE} fillOpacity={0.1} stroke="none" ifOverflow="hidden" />
          <ReferenceLine y={80} stroke="#787b86" strokeDasharray="5 4" />
          <ReferenceLine y={20} stroke="#787b86" strokeDasharray="5 4" />
          <Line data={pts(stochK)} dataKey="v" type="monotone" stroke={BLUE} strokeWidth={1.4} dot={false} activeDot={false} isAnimationActive={false} />
          <Line data={pts(stochD)} dataKey="v" type="monotone" stroke={ORANGE} strokeWidth={1.4} dot={false} activeDot={false} isAnimationActive={false} />
        </ComposedChart>
      </div>

      {/* bottom scale label of the stochastic pane */}
      <div
        style={{
          position: "absolute",
          left: 565,
          top: 499,
          height: 16,
          lineHeight: "16px",
          fontSize: 12,
          color: TEXT,
        }}
      >
        0.00
      </div>

      {tags.map((t) => (
        <div
          key={t.text + t.cy}
          style={{
            position: "absolute",
            left: 557,
            top: t.cy - 8.5,
            width: t.w,
            height: 17,
            lineHeight: "17px",
            background: t.bg,
            color: t.color ?? "#ffffff",
            fontSize: 12.5,
            paddingLeft: 4,
            boxSizing: "border-box",
            whiteSpace: "nowrap",
            overflow: "hidden",
          }}
        >
          {t.text}
        </div>
      ))}

      <svg style={{ position: "absolute", left: 578, top: 519 }} width={17} height={17} viewBox="0 0 17 17">
        <polygon points="8.5,1.5 14.5,5 14.5,12 8.5,15.5 2.5,12 2.5,5" fill="none" stroke={TEXT} strokeWidth={1.2} />
        <circle cx={8.5} cy={8.5} r={2.4} fill="none" stroke={TEXT} strokeWidth={1.2} />
      </svg>
    </div>
  );
}
